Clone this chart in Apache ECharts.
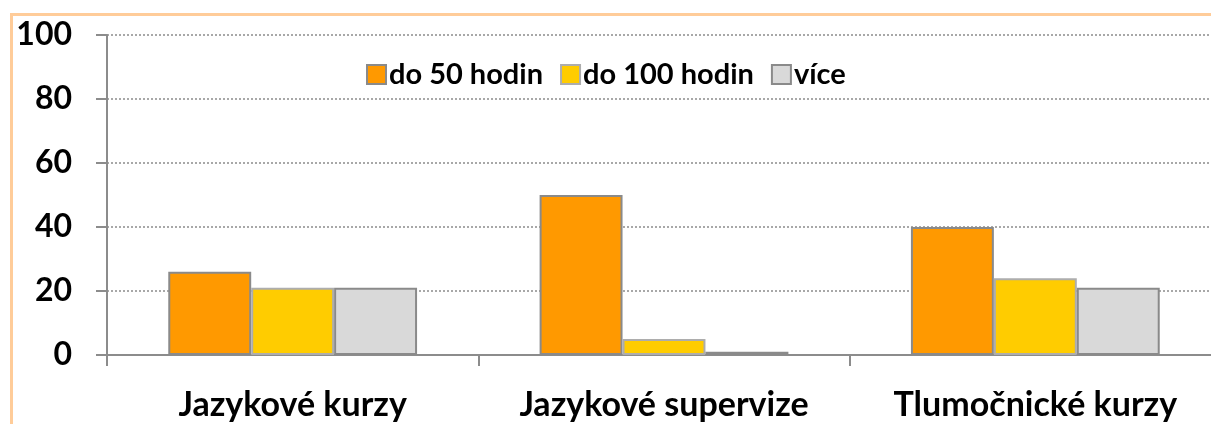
<!DOCTYPE html>
<html>
<head>
<meta charset="utf-8">
<script src="https://cdn.jsdelivr.net/npm/echarts@6/dist/echarts.min.js"></script>
<style>
  html, body { margin: 0; padding: 0; background: #fff; overflow: hidden; }
  #chart { width: 1225px; height: 424px; }
</style>
</head>
<body>
<div id="chart"></div>
<script>
// kategorie a hodnoty
const categories = ['Jazykové kurzy', 'Jazykové supervize', 'Tlumočnické kurzy'];
const seriesNames = ['do 50 hodin', 'do 100 hodin', 'více'];
const do50 = [26, 50, 40];
const do100 = [21, 5, 24];
const vice = [21, 1, 21];
const yTicks = [0, 20, 40, 60, 80, 100];

const colors = ['#FF9900', '#FFCC00', '#D9D9D9'];
const borders = ['#8a8a8a', '#adadad', '#8a8a8a'];
const font = 'Lato, "Open Sans", sans-serif';

const chart = echarts.init(document.getElementById('chart'));

const option = {
  backgroundColor: '#fff',
  animation: false,
  graphic: [{
    type: 'rect',
    shape: { x: 11.5, y: 14.5, width: 1300, height: 500 },
    style: { fill: 'none', stroke: '#FFCC99', lineWidth: 3 },
    silent: true
  }],
  legend: {
    data: seriesNames,
    left: 361,
    top: 55,
    itemWidth: 19,
    itemHeight: 19,
    itemGap: 17,
    icon: 'rect',
    textStyle: { fontFamily: font, fontWeight: 'bold', fontSize: 29, color: '#000', padding: [0, 0, 0, -2] }
  },
  grid: { left: 107, right: 4, top: 35, bottom: 69, containLabel: false },
  xAxis: {
    type: 'category',
    data: categories,
    axisLine: { lineStyle: { color: '#8c8c8c', width: 2 } },
    axisTick: { show: true, length: 11, lineStyle: { color: '#8c8c8c', width: 2 } },
    axisLabel: { interval: 0, margin: 33, fontFamily: font, fontWeight: 'bold', fontSize: 34, color: '#000' }
  },
  yAxis: {
    type: 'value',
    min: 0,
    max: yTicks[yTicks.length - 1],
    interval: yTicks[1] - yTicks[0],
    axisLine: { show: true, lineStyle: { color: '#8c8c8c', width: 2 } },
    axisTick: { show: true, length: 11, lineStyle: { color: '#8c8c8c', width: 2 } },
    axisLabel: { margin: 35, fontFamily: font, fontWeight: 'bold', fontSize: 32, color: '#000' },
    splitLine: { lineStyle: { color: '#8c8c8c', type: [2, 2], width: 1.5 } }
  },
  series: [do50, do100, vice].map((d, i) => ({
    name: seriesNames[i],
    type: 'bar',
    data: d,
    barGap: 0,
    barCategoryGap: '33%',
    itemStyle: { color: colors[i], borderColor: borders[i], borderWidth: 2 }
  }))
};

chart.setOption(option);
</script>
</body>
</html>
